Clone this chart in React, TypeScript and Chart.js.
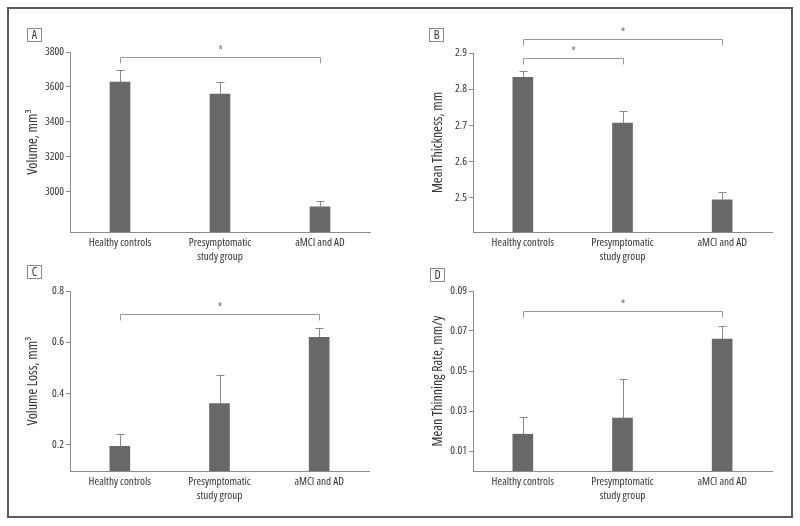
import { useEffect, useRef } from "react";
import { Chart, registerables } from "chart.js";

Chart.register(...registerables);

// ---------- data ----------
const CATEGORIES: (string | string[])[] = ["Healthy controls", ["Presymptomatic", "study group"], "aMCI and AD"];

// Panel A: volume
const VOLUME_MEAN = [3628, 3559, 2913];
const VOLUME_UPPER = [3697, 3629, 2944];
const VOLUME_TICKS = [3000, 3200, 3400, 3600, 3800];

// Panel B: mean thickness
const THICK_MEAN = [2.833, 2.706, 2.494];
const THICK_UPPER = [2.849, 2.739, 2.515];
const THICK_TICKS = [2.5, 2.6, 2.7, 2.8, 2.9];

// Panel C: volume loss
const VLOSS_MEAN = [0.193, 0.36, 0.619];
const VLOSS_UPPER = [0.24, 0.473, 0.657];
const VLOSS_TICKS = [0.2, 0.4, 0.6, 0.8];

// Panel D: mean thinning rate
const THIN_MEAN = [0.0184, 0.0265, 0.066];
const THIN_UPPER = [0.027, 0.0458, 0.0727];
const THIN_TICKS = [0.01, 0.03, 0.05, 0.07, 0.09];

// significance brackets: [from category, to category, level in value units]
const BRACKETS_A: [number, number, number][] = [[0, 2, 3771]];
const BRACKETS_B: [number, number, number][] = [[0, 2, 2.9386], [0, 1, 2.886]];
const BRACKETS_C: [number, number, number][] = [[0, 2, 0.712]];
const BRACKETS_D: [number, number, number][] = [[0, 2, 0.0799]];

// ---------- style ----------
const FAMILY = "'Open Sans', 'DejaVu Sans Condensed', sans-serif";
const WEIGHT = "400 condensed";
const BAR = "#686868";
const AXIS = "#8a8a8a";
const ERR = "#8a8a8a";
const TEXT = "#333333";

type Panel = {
  letter: string;
  left: number;
  top: number;
  w: number;
  h: number;
  mean: number[];
  upper: number[];
  ticks: number[];
  decimals: number;
  min: number;
  max: number;
  title: string;
  brackets: [number, number, number][];
  padTop: number;
  padRight: number;
  yWidth: number;
  xHeight: number;
  titlePad: number;
  box: [number, number];
};

const PANELS: Panel[] = [
  { letter: "A", left: 0, top: 0, w: 400, h: 275, mean: VOLUME_MEAN, upper: VOLUME_UPPER, ticks: VOLUME_TICKS, decimals: 0, min: 2768, max: 3800, title: "Volume, mm³", brackets: BRACKETS_A, padTop: 52, padRight: 30, yWidth: 70, xHeight: 43, titlePad: 25, box: [27, 28] },
  { letter: "B", left: 400, top: 0, w: 400, h: 275, mean: THICK_MEAN, upper: THICK_UPPER, ticks: THICK_TICKS, decimals: 1, min: 2.405, max: 2.9, title: "Mean Thickness, mm", brackets: BRACKETS_B, padTop: 53, padRight: 28, yWidth: 73, xHeight: 43, titlePad: 29.6, box: [29, 28] },
  { letter: "C", left: 0, top: 260, w: 400, h: 266, mean: VLOSS_MEAN, upper: VLOSS_UPPER, ticks: VLOSS_TICKS, decimals: 1, min: 0.097, max: 0.8, title: "Volume Loss, mm³", brackets: BRACKETS_C, padTop: 31, padRight: 31, yWidth: 70, xHeight: 55, titlePad: 25, box: [27, 5] },
  { letter: "D", left: 400, top: 260, w: 400, h: 266, mean: THIN_MEAN, upper: THIN_UPPER, ticks: THIN_TICKS, decimals: 2, min: 0, max: 0.09, title: "Mean Thinning Rate, mm/y", brackets: BRACKETS_D, padTop: 31, padRight: 28, yWidth: 73, xHeight: 55, titlePad: 29.5, box: [30, 8] },
];

function overlayPlugin(upper: number[], brackets: [number, number, number][]) {
  return {
    id: "overlay",
    afterDatasetsDraw(chart: any) {
      const ctx = chart.ctx as CanvasRenderingContext2D;
      const xs = chart.scales.x;
      const ys = chart.scales.y;
      const meta = chart.getDatasetMeta(0);
      ctx.save();
      ctx.strokeStyle = ERR;
      ctx.lineWidth = 1;
      meta.data.forEach((bar: any, i: number) => {
        const px = Math.round(bar.x) + 0.5;
        const top = Math.round(ys.getPixelForValue(upper[i])) + 0.5;
        ctx.beginPath();
        ctx.moveTo(px, bar.y);
        ctx.lineTo(px, top);
        ctx.moveTo(px - 4, top);
        ctx.lineTo(px + 4, top);
        ctx.stroke();
      });
      ctx.strokeStyle = "#999999";
      brackets.forEach(([a, b, level]) => {
        const x1 = Math.round(xs.getPixelForValue(a)) + 0.5;
        const x2 = Math.round(xs.getPixelForValue(b)) + 0.5;
        const y = Math.round(ys.getPixelForValue(level)) + 0.5;
        ctx.beginPath();
        ctx.moveTo(x1, y + 6);
        ctx.lineTo(x1, y);
        ctx.lineTo(x2, y);
        ctx.lineTo(x2, y + 6);
        ctx.stroke();
        ctx.fillStyle = "#777777";
        ctx.font = `${WEIGHT} 12px ${FAMILY}`;
        ctx.textAlign = "center";
        ctx.textBaseline = "middle";
        ctx.fillText("*", (x1 + x2) / 2, y - 6);
      });
      ctx.restore();
    },
  };
}

function PanelChart({ p }: { p: Panel }) {
  const ref = useRef<HTMLCanvasElement>(null);
  useEffect(() => {
    if (!ref.current) return;
    const chart = new Chart(ref.current, {
      type: "bar",
      data: {
        labels: CATEGORIES as any,
        datasets: [
          {
            data: p.mean,
            backgroundColor: BAR,
            borderWidth: 0,
            barThickness: 20,
          },
        ],
      },
      options: {
        animation: false,
        responsive: false,
        maintainAspectRatio: false,
        events: [],
        layout: { padding: { top: p.padTop, right: p.padRight, left: 0, bottom: 0 } },
        plugins: { legend: { display: false }, tooltip: { enabled: false } },
        scales: {
          x: {
            grid: { display: true, drawOnChartArea: false, drawTicks: false },
            border: { display: true, color: AXIS, width: 1 },
            ticks: {
              padding: 4,
              color: TEXT,
              autoSkip: false,
              maxRotation: 0,
              font: { family: FAMILY, weight: WEIGHT as any, size: 11.2, lineHeight: 1.25 },
            },
            afterFit: (s: any) => {
              s.height = p.xHeight;
            },
          },
          y: {
            min: p.min,
            max: p.max,
            afterBuildTicks: (s: any) => {
              s.ticks = p.ticks.map((v) => ({ value: v }));
            },
            ticks: {
              padding: 2,
              color: TEXT,
              font: { family: FAMILY, weight: WEIGHT as any, size: 11.2 },
              callback: (v: any) => Number(v).toFixed(p.decimals),
            },
            grid: { drawOnChartArea: false, drawTicks: true, tickLength: 4, color: AXIS },
            border: { display: true, color: AXIS, width: 1 },
            title: {
              display: true,
              text: p.title,
              color: TEXT,
              padding: { top: p.titlePad, bottom: 0 },
              font: { family: FAMILY, weight: WEIGHT as any, size: 14 },
            },
            afterFit: (s: any) => {
              s.width = p.yWidth;
            },
          },
        },
      },
      plugins: [overlayPlugin(p.upper, p.brackets)],
    });
    return () => chart.destroy();
  }, [p]);

  return (
    <div style={{ position: "absolute", left: p.left, top: p.top, width: p.w, height: p.h }}>
      <canvas ref={ref} width={p.w} height={p.h} style={{ width: p.w, height: p.h, display: "block" }} />
      <div
        style={{
          position: "absolute",
          left: p.box[0],
          top: p.box[1],
          width: 13,
          height: 12,
          border: "1px solid #8a8a8a",
          fontFamily: FAMILY,
          fontStretch: "condensed",
          fontSize: 12,
          lineHeight: "12px",
          textAlign: "center",
          color: TEXT,
          background: "#fff",
        }}
      >
        {p.letter}
      </div>
    </div>
  );
}

export default function App() {
  return (
    <div style={{ position: "absolute", left: 0, top: 0, width: 800, height: 526, background: "#fff", overflow: "hidden" }}>
      <div
        style={{
          position: "absolute",
          left: 7,
          top: 7,
          width: 782,
          height: 507,
          border: "2px solid #5c5c5c",
        }}
      />
      {PANELS.map((p) => (
        <PanelChart key={p.letter} p={p} />
      ))}
    </div>
  );
}
